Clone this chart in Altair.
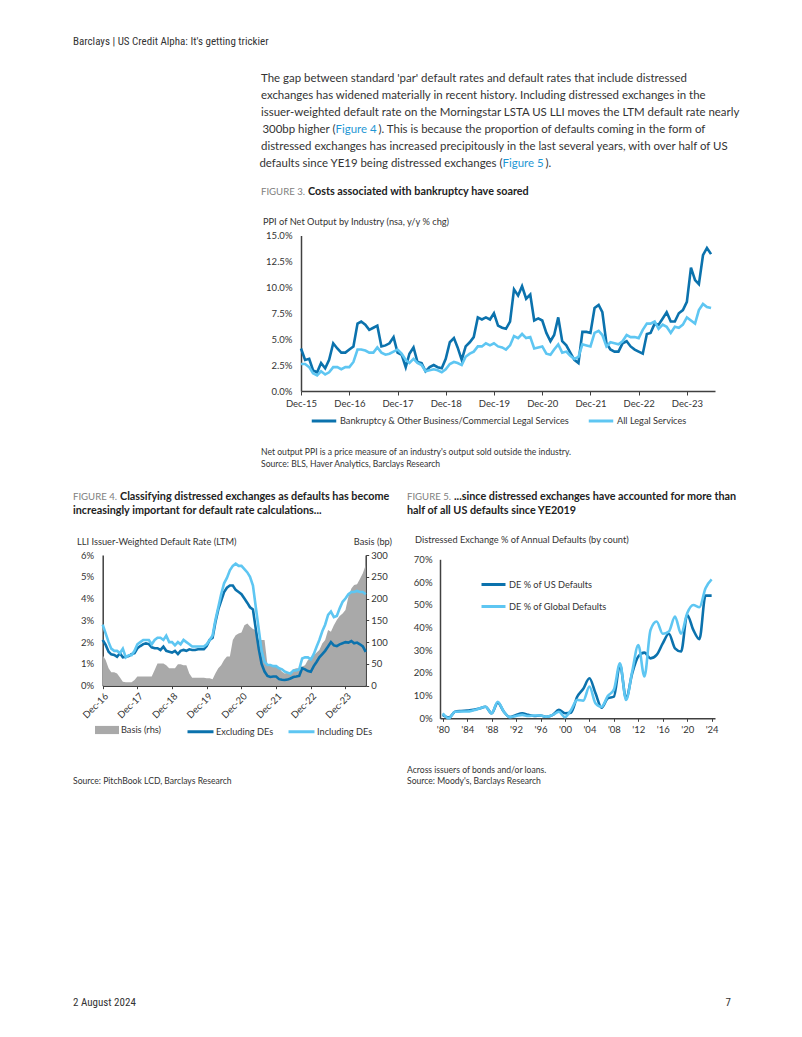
import altair as alt
import pandas as pd

COND = "Liberation Sans Narrow, Arial Narrow, Roboto Condensed, Roboto, sans-serif"
FONT = "Lato, Roboto, sans-serif"
W, H = 786, 1015
DARK = "#0b72ad"
LIGHT = "#5ec6f2"
GRAY = "#a9a9a9"
TXT = "#333333"
LINK = "#1f97d4"
AXIS = "#404040"

# ---------------- Figure 3 data (monthly, Dec-15 .. Jun-24) ----------------
fig3_series = ["Bankruptcy & Other Business/Commercial Legal Services", "All Legal Services"]
fig3_bankruptcy = [4.1,
    3.0, 3.1, 2.0, 1.8, 2.7, 2.2, 3.0, 4.6, 4.1, 3.7, 3.7, 4.0,
    4.3, 6.5, 6.7, 6.4, 5.9, 6.1, 6.3, 4.3, 4.4, 4.6, 5.2, 3.7,
    3.5, 2.3, 3.6, 4.2, 2.8, 2.7, 1.9, 2.3, 2.5, 2.3, 2.2, 3.1,
    4.7, 5.1, 4.2, 3.0, 4.3, 4.7, 5.2, 7.1, 6.9, 7.1, 6.9, 7.5,
    6.3, 6.1, 6.0, 6.7, 9.8, 9.2, 10.1, 8.9, 9.3, 6.8, 7.0, 6.8,
    5.6, 4.8, 5.4, 7.1, 4.8, 4.4, 3.7, 3.0, 2.7, 5.7, 5.7, 5.6,
    8.0, 8.3, 7.6, 4.6, 4.0, 3.8, 3.8, 4.6, 4.8, 4.3, 4.0, 3.8,
    3.6, 5.5, 5.6, 6.5, 6.4, 7.0, 7.6, 6.7, 6.7, 7.5, 7.8, 8.6,
    11.9, 10.7, 10.3, 13.1, 13.8, 13.2]
fig3_all_legal = [2.6,
    2.6, 2.3, 1.7, 1.5, 1.9, 1.6, 1.8, 2.3, 2.3, 2.1, 2.3, 2.3,
    2.8, 4.0, 4.0, 3.9, 3.7, 3.7, 4.2, 3.7, 3.5, 3.6, 3.8, 4.0,
    3.6, 3.0, 2.7, 3.1, 2.7, 2.5, 1.9, 2.0, 2.1, 2.0, 1.8, 2.1,
    2.6, 2.8, 2.7, 2.5, 3.3, 3.6, 3.8, 4.3, 4.3, 4.6, 4.4, 4.6,
    4.3, 4.2, 4.0, 4.4, 5.3, 5.1, 5.5, 5.1, 5.2, 4.1, 4.2, 4.3,
    3.6, 3.5, 4.0, 4.5, 3.7, 3.8, 3.4, 3.1, 3.3, 4.5, 4.4, 4.3,
    5.6, 5.8, 5.4, 4.3, 4.7, 4.6, 4.5, 4.8, 5.4, 5.2, 5.2, 5.1,
    5.9, 6.5, 6.5, 6.7, 6.0, 6.4, 6.2, 5.6, 6.2, 6.1, 6.4, 7.1,
    6.8, 6.5, 7.8, 8.4, 8.1, 8.0]
fig3_yticks = [0, 2.5, 5, 7.5, 10, 12.5, 15]

# ---------------- Figure 4 data (monthly, Dec-16 .. Jul-24) ----------------
fig4_series = ["Excluding DEs", "Including DEs"]
fig4_including = [2.8,
    2.4, 2.0, 1.7, 1.6, 1.6, 1.5, 1.7, 1.3, 1.4, 1.4, 1.6, 1.9,
    2.0, 2.1, 2.1, 2.1, 1.9, 2.1, 2.2, 2.2, 2.1, 2.3, 2.0, 2.0,
    1.85, 2.0, 1.9, 2.1, 2.0, 1.9, 1.8, 1.8, 1.8, 1.8, 1.8, 1.9,
    2.1, 2.3, 3.0, 3.6, 4.2, 4.7, 4.95, 5.3, 5.5, 5.6, 5.5, 5.5,
    5.35, 5.2, 5.0, 4.6, 3.6, 2.6, 1.6, 1.1, 0.95, 0.95, 0.9, 0.9,
    0.8, 0.75, 0.65, 0.6, 0.55, 0.7, 0.7, 0.75, 1.25, 1.3, 1.3, 1.2,
    1.45, 1.8, 2.1, 2.5, 2.8, 3.25, 3.4, 3.15, 3.2, 3.55, 3.85, 4.0,
    4.2, 4.3, 4.3, 4.35, 4.3, 4.3, 4.2]
fig4_excluding = [2.1,
    1.87, 1.56, 1.44, 1.41, 1.33, 1.49, 1.3, 1.33, 1.36, 1.45, 1.49, 1.72,
    1.82, 1.91, 1.94, 1.91, 1.76, 1.72, 1.72, 1.64, 1.79, 1.6, 1.56, 1.52,
    1.6, 1.45, 1.6, 1.64, 1.6, 1.67, 1.64, 1.64, 1.67, 1.67, 1.67, 1.82,
    2.1, 2.2, 2.9, 3.5, 3.9, 4.3, 4.5, 4.6, 4.6, 4.4, 4.3, 4.2,
    4.0, 3.8, 3.6, 3.5, 2.6, 1.7, 1.0, 0.65, 0.45, 0.4, 0.42, 0.42,
    0.3, 0.27, 0.26, 0.28, 0.33, 0.4, 0.42, 0.45, 0.8, 0.75, 0.67, 0.64,
    0.9, 1.1, 1.3, 1.45, 1.6, 1.8, 2.0, 1.85, 1.82, 1.9, 1.95, 2.0,
    1.98, 2.05, 1.95, 1.98, 1.9, 1.8, 1.55]
fig4_basis = [70,
    59, 40, 31, 31, 28, 19, 9, 8, 8, 8, 13, 21,
    21, 21, 21, 21, 21, 36, 51, 51, 51, 47, 40, 40,
    40, 49, 49, 47, 47, 28, 18, 18, 18, 18, 18, 17,
    17, 15, 28, 40, 47, 59, 67, 67, 105, 116, 120, 122,
    139, 143, 136, 130, 128, 105, 105, 105, 47, 47, 46, 44,
    40, 32, 28, 30, 32, 38, 40, 40, 44, 47, 59, 63,
    70, 76, 82, 97, 105, 128, 124, 139, 151, 160, 166, 174,
    204, 223, 231, 233, 245, 258, 277]
fig4_basis_label = "Basis (rhs)"
fig4_left_ticks = [0, 1, 2, 3, 4, 5, 6]
fig4_right_ticks = [0, 50, 100, 150, 200, 250, 300]

# ---------------- Figure 5 data (annual, 1980 .. 2024) ----------------
fig5_series = ["DE % of US Defaults", "DE % of Global Defaults"]
fig5_years = list(range(1980, 2025))
fig5_us = [1.5, 0.3, 2.9, 3.2, 3.4, 3.7, 4.3, 5.1, 2.2, 6.9,
           2.9, 0.5, 1.5, 2.2, 1.5, 1.0, 1.2, 0.7, 1.5, 3.7,
           2.2, 2.5, 9.5, 13.0, 17.6, 11.0, 4.7, 8.8, 9.5, 23.5,
           8.8, 19.8, 27.2, 28.9, 26.4, 27.9, 33.0, 37.2, 30.8, 29.4,
           45.5, 38.9, 34.8, 54.0, 54.0]
fig5_global = [2.2, 0.0, 2.9, 3.0, 3.0, 3.5, 4.3, 5.1, 2.2, 7.3,
               2.9, 0.5, 1.0, 1.5, 1.0, 1.2, 1.2, 0.7, 1.5, 2.9,
               0.5, 3.7, 8.1, 7.8, 14.0, 6.6, 5.1, 9.8, 12.6, 24.2,
               8.1, 20.6, 32.3, 18.4, 38.9, 42.6, 37.2, 38.2, 44.8, 37.2,
               46.3, 49.9, 48.9, 57.3, 61.2]
fig5_xticks = list(range(1980, 2025, 4))
fig5_yticks = [0, 10, 20, 30, 40, 50, 60, 70]

# ---------------- tables ----------------
d3 = pd.date_range("2015-12-01", periods=len(fig3_bankruptcy), freq="MS")
f3 = pd.DataFrame({"date": d3, fig3_series[0]: fig3_bankruptcy, fig3_series[1]: fig3_all_legal}) \
    .melt("date", var_name="series", value_name="value")
d4 = pd.date_range("2016-12-01", periods=len(fig4_basis), freq="MS")
f4 = pd.DataFrame({"date": d4, fig4_series[0]: fig4_excluding, fig4_series[1]: fig4_including}) \
    .melt("date", var_name="series", value_name="value")
f4b = pd.DataFrame({"date": d4, "basis": fig4_basis, "series": fig4_basis_label})
f5 = pd.DataFrame({"year": fig5_years, fig5_series[0]: fig5_us, fig5_series[1]: fig5_global}) \
    .melt("year", var_name="series", value_name="value")

AX = dict(title=None, grid=False, labelFont=FONT, labelFontSize=9.5, labelColor=TXT,
          domainColor=AXIS, domainWidth=1.5, tickColor=AXIS, tickWidth=1)
LEG = dict(title=None, labelFont=FONT, labelFontSize=9.2, labelColor=TXT, labelLimit=400, padding=0)


def dt(y, m):
    return alt.DateTime(year=y, month=m, date=1)


# ---------------- Figure 3 ----------------
fig3 = alt.Chart(f3).mark_line(strokeWidth=2.6).encode(
    x=alt.X("date:T",
            scale=alt.Scale(domain=[dt(2015, 12), dt(2024, 7)], range=[293, 707]),
            axis=alt.Axis(orient="bottom", offset=383 - H, values=[dt(y, 12) for y in range(2015, 2024)],
                          format="%b-%y", tickSize=4, labelPadding=3, labelFlush=False, **AX)),
    y=alt.Y("value:Q",
            scale=alt.Scale(domain=[0, 15], range=[383, 227.5], nice=False),
            axis=alt.Axis(orient="left", offset=-293, values=fig3_yticks, ticks=False, tickSize=0,
                          labelPadding=9, labelExpr="format(datum.value, '.1f') + '%'", **AX)),
    color=alt.Color("series:N", sort=fig3_series,
                    scale=alt.Scale(domain=fig3_series, range=[DARK, LIGHT]),
                    legend=alt.Legend(orient="none", legendX=302, legendY=399, direction="horizontal",
                                      symbolType="stroke", symbolSize=600, symbolStrokeWidth=3,
                                      labelOffset=2, columnPadding=12, **LEG)),
)

# ---------------- Figure 4 ----------------
x4_scale = alt.Scale(domain=[dt(2016, 12), dt(2024, 7)], range=[94.7, 357.7])
fig4_area = alt.Chart(f4b).mark_area(color=GRAY).encode(
    x=alt.X("date:T", scale=x4_scale,
            axis=alt.Axis(orient="bottom", offset=677.7 - H, values=[dt(y, 12) for y in range(2016, 2024)],
                          format="%b-%y", labelAngle=-45, tickSize=3, labelPadding=2, labelFlush=False, **AX)),
    y=alt.Y("basis:Q", scale=alt.Scale(domain=[0, 300], range=[677.7, 547], nice=False),
            axis=alt.Axis(orient="right", offset=357.7 - W, values=fig4_right_ticks, tickSize=3,
                          labelPadding=2, **AX)),
    color=alt.Color("series:N", scale=alt.Scale(domain=[fig4_basis_label], range=[GRAY]),
                    legend=alt.Legend(orient="none", legendX=87, legendY=710,
                                      symbolType="M-1,-0.34H1V0.34H-1Z", symbolSize=576,
                                      symbolStrokeWidth=0, labelOffset=2, **LEG)),
)
fig4_lines = alt.Chart(f4).mark_line(strokeWidth=2.6).encode(
    x=alt.X("date:T", scale=x4_scale, axis=None),
    y=alt.Y("value:Q", scale=alt.Scale(domain=[0, 6], range=[677.7, 547], nice=False),
            axis=alt.Axis(orient="left", offset=-94.7, values=fig4_left_ticks, ticks=False, tickSize=0,
                          labelPadding=9, labelExpr="datum.value + '%'", **AX)),
    color=alt.Color("series:N", sort=fig4_series,
                    scale=alt.Scale(domain=fig4_series, range=[DARK, LIGHT]),
                    legend=alt.Legend(orient="none", legendX=178, legendY=709, direction="horizontal",
                                      symbolType="stroke", symbolSize=676, symbolStrokeWidth=3,
                                      labelOffset=1, columnPadding=8, **LEG)),
)

# ---------------- Figure 5 ----------------
fig5 = alt.Chart(f5).mark_line(strokeWidth=2.6, interpolate="monotone").encode(
    x=alt.X("year:Q", scale=alt.Scale(domain=[1979.55, 2024.55], range=[432, 707], nice=False, zero=False),
            axis=alt.Axis(orient="bottom", offset=710.3 - H, values=fig5_xticks, tickSize=3, labelPadding=3,
                          labelFlush=False,
                          labelExpr="\"'\" + substring(toString(datum.value), 2, 4)", **AX)),
    y=alt.Y("value:Q", scale=alt.Scale(domain=[0, 70], range=[710.3, 551.3], nice=False),
            axis=alt.Axis(orient="left", offset=-432, values=fig5_yticks, ticks=False, tickSize=0,
                          labelPadding=8, labelExpr="datum.value + '%'", **AX)),
    color=alt.Color("series:N", sort=fig5_series,
                    scale=alt.Scale(domain=fig5_series, range=[DARK, LIGHT]),
                    legend=alt.Legend(orient="none", legendX=472, legendY=563, direction="vertical",
                                      symbolType="stroke", symbolSize=576, symbolStrokeWidth=3,
                                      labelOffset=2, rowPadding=2, **LEG)),
)


# ---------------- page text ----------------
def text_layer(rows, size, color, weight="normal", align="left", font=FONT):
    df = pd.DataFrame(rows, columns=["x", "y", "text"])
    return alt.Chart(df).mark_text(align=align, baseline="middle", font=font, fontSize=size,
                                   color=color, fontWeight=weight).encode(
        x=alt.X("x:Q", scale=None, axis=None),
        y=alt.Y("y:Q", scale=None, axis=None),
        text="text:N")


body = text_layer([
    (65, 34, "Barclays | US Credit Alpha: It's getting trickier"),
    (65, 995, "2 August 2024"),
], 11, TXT, font=COND)
page_no = text_layer([(723, 995, "7")], 11, TXT, align="right", font=COND)

PS = 11.45
X4, X6 = 327.5, 494.5
para = text_layer([
    (253, 71, "The gap between standard 'par' default rates and default rates that include distressed"),
    (253, 88, "exchanges has widened materially in recent history. Including distressed exchanges in the"),
    (253, 105, "issuer-weighted default rate on the Morningstar LSTA US LLI moves the LTM default rate nearly"),
    (X4 + 43, 122, "). This is because the proportion of defaults coming in the form of"),
    (253, 139, "distressed exchanges has increased precipitously in the last several years, with over half of US"),
    (X6 + 43, 156, ")."),
], PS, TXT)
para_r = text_layer([
    (X4, 122, "300bp higher ("),
    (X6, 156, "defaults since YE19 being distressed exchanges ("),
], PS, TXT, align="right")
links = text_layer([
    (X4, 122, "Figure 4"),
    (X6, 156, "Figure 5"),
], PS, LINK)

fig_labels = text_layer([
    (253, 184, "FIGURE 3."),
    (65, 489, "FIGURE 4."),
    (399, 489, "FIGURE 5."),
], 9.6, "#808080")
fig_titles = text_layer([
    (300, 184, "Costs associated with bankruptcy have soared"),
    (112, 489, "Classifying distressed exchanges as defaults has become"),
    (65, 503, "increasingly important for default rate calculations..."),
    (446, 489, "...since distressed exchanges have accounted for more than"),
    (399, 503, "half of all US defaults since YE2019"),
], 10.8, "#222222", weight="bold")

axis_titles = text_layer([
    (255, 214, "PPI of Net Output by Industry (nsa, y/y % chg)"),
    (69, 534, "LLI Issuer-Weighted Default Rate (LTM)"),
    (407, 532, "Distressed Exchange % of Annual Defaults (by count)"),
], 9.25, TXT)
axis_titles_r = text_layer([(384, 534, "Basis (bp)")], 9.25, TXT, align="right")

notes = text_layer([
    (253, 444, "Net output PPI is a price measure of an industry's output sold outside the industry."),
    (253, 456, "Source: BLS, Haver Analytics, Barclays Research"),
    (65, 773, "Source: PitchBook LCD, Barclays Research"),
    (399, 762, "Across issuers of bonds and/or loans."),
    (399, 773, "Source: Moody's, Barclays Research"),
], 8.6, TXT)

chart = alt.layer(
    fig3, fig4_area, fig4_lines, fig5,
    body, page_no, para, para_r, links, fig_labels, fig_titles, axis_titles, axis_titles_r, notes,
).properties(
    width=W, height=H, padding=0, background="white",
    autosize=alt.AutoSizeParams(type="none"),
).resolve_scale(
    x="independent", y="independent", color="independent"
).resolve_axis(
    x="independent", y="independent"
).resolve_legend(
    color="independent"
).configure_view(stroke=None)

chart.save("out.html", embed_options={"renderer": "svg", "actions": False})
